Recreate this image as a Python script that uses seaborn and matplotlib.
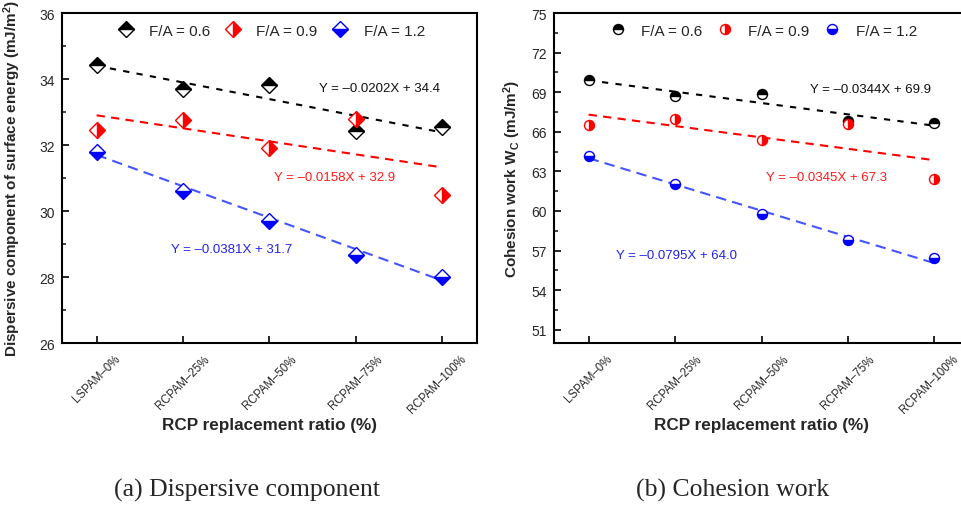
import numpy as np
import pandas as pd
import matplotlib
matplotlib.use("Agg")
import matplotlib.pyplot as plt
import matplotlib.transforms as mtransforms
import seaborn as sns
from matplotlib.ticker import MultipleLocator, FixedLocator

# ---------------- data ----------------
categories = ["LSPAM–0%", "RCPAM–25%", "RCPAM–50%", "RCPAM–75%", "RCPAM–100%"]
ratio = [0, 25, 50, 75, 100]
series_labels = ["F/A = 0.6", "F/A = 0.9", "F/A = 1.2"]

disp_06 = [34.43, 33.70, 33.83, 32.42, 32.54]
disp_09 = [32.46, 32.77, 31.90, 32.79, 30.47]
disp_12 = [31.78, 30.60, 29.70, 28.68, 27.99]

coh_06 = [69.94, 68.73, 68.88, 66.79, 66.67]
coh_09 = [66.54, 66.94, 65.36, 66.56, 62.39]
coh_12 = [64.18, 62.08, 59.77, 57.80, 56.42]

disp_slopes = [-0.0202, -0.0158, -0.0381]
disp_intercepts = [34.4, 32.9, 31.7]
coh_slopes = [-0.0344, -0.0345, -0.0795]
coh_intercepts = [69.9, 67.3, 64.0]

# ---------------- style ----------------
sns.set_style("ticks")
plt.rcParams["font.family"] = ["Liberation Sans", "DejaVu Sans"]
plt.rcParams["mathtext.fontset"] = "custom"
plt.rcParams["mathtext.rm"] = "Liberation Sans"
plt.rcParams["mathtext.it"] = "Liberation Sans:italic"
plt.rcParams["mathtext.bf"] = "Liberation Sans:bold"

marker_colors = ["#000000", "#ff0000", "#0000ff"]
line_colors = ["#000000", "#ff0000", "#4455ff"]
text_colors = ["#111111", "#ff1a1a", "#2222ee"]
fills = ["top", "right", "bottom"]
dash_styles = [(0, (3, 3.5)), (0, (4, 3)), (0, (5, 3))]

W, H = 962, 506
fig = plt.figure(figsize=(W / 100, H / 100), dpi=100)


def px_axes(l, t, r, b):
    return fig.add_axes([l / W, 1 - b / H, (r - l) / W, (b - t) / H])


ax1 = px_axes(62, 14, 477, 344)
ax2 = px_axes(554, 14, 969, 344)


def draw_panel(ax, ys, slopes, intercepts, marker, ms, eq_xy):
    handles = []
    for i in range(3):
        df = pd.DataFrame({"x": ratio, "y": ys[i]})
        xfit = np.array([ratio[0], ratio[-1]], dtype=float)
        fit = pd.DataFrame({"x": xfit, "y": intercepts[i] + slopes[i] * xfit})
        sns.lineplot(data=fit, x="x", y="y", ax=ax, color=line_colors[i],
                     linewidth=1.5, linestyle=dash_styles[i], legend=False,
                     zorder=2)
        sns.lineplot(data=df, x="x", y="y", ax=ax, color=marker_colors[i],
                     marker=marker, markersize=ms, linestyle="",
                     fillstyle=fills[i], markerfacecoloralt="white",
                     markeredgecolor=marker_colors[i], markeredgewidth=1.0,
                     label=series_labels[i], legend=False, zorder=3)
        handles.append(ax.lines[-1])
        sign = "–" if slopes[i] < 0 else "+"
        ax.text(eq_xy[i][0], eq_xy[i][1],
                f"Y = {sign}{abs(slopes[i]):.4f}X + {intercepts[i]:.1f}",
                color=text_colors[i], fontsize=9.5, ha="center", va="center")
    ax.legend(handles=handles, labels=series_labels, loc="upper center",
              ncol=3, frameon=False, fontsize=11, handlelength=1.5,
              handletextpad=0.8, columnspacing=0.7, borderaxespad=0.3)
    ax.set_xlim(-10, 110)
    ax.xaxis.set_major_locator(FixedLocator(ratio))
    ax.set_xticklabels(categories, rotation=45, ha="center", va="top",
                       fontsize=8.3)
    ax.tick_params(axis="x", which="major", direction="in", length=5,
                   width=1.4, pad=7, bottom=True, top=False)
    ax.tick_params(axis="y", which="major", direction="in", length=5,
                   width=1.4, labelsize=10, pad=5, left=True, right=False)
    ax.tick_params(axis="y", which="minor", direction="in", length=3,
                   width=1.2, left=True, right=False)
    # the last label sits slightly left of its tick in the reference
    last = ax.xaxis.get_major_ticks()[-1].label1
    last.set_transform(last.get_transform() +
                       mtransforms.ScaledTranslation(-5 / 100, 0,
                                                     fig.dpi_scale_trans))
    for s in ax.spines.values():
        s.set_linewidth(1.5)
        s.set_color("black")
    ax.set_xlabel("RCP replacement ratio (%)", fontsize=12.3, fontweight="bold",
                  labelpad=1)


draw_panel(ax1, [disp_06, disp_09, disp_12], disp_slopes, disp_intercepts,
           "D", 7.8, [(81.7, 33.73), (68.7, 31.03), (39.0, 28.85)])
ax1.set_ylim(26, 36)
ax1.yaxis.set_major_locator(MultipleLocator(2))
ax1.yaxis.set_minor_locator(MultipleLocator(1))
ax1.set_ylabel(r"Dispersive component of surface energy (mJ/m$^{\mathbf{2}}$)",
               fontsize=11, fontweight="bold", labelpad=12)

draw_panel(ax2, [coh_06, coh_09, coh_12], coh_slopes, coh_intercepts,
           "o", 7.2, [(81.6, 69.26), (68.7, 62.56), (25.4, 56.67)])
ax2.set_ylim(50, 75)
ax2.yaxis.set_major_locator(FixedLocator([51, 54, 57, 60, 63, 66, 69, 72, 75]))
ax2.yaxis.set_minor_locator(FixedLocator(list(np.arange(52.5, 75, 3))))
ax2.set_ylabel(r"Cohesion work W$_{\mathbf{C}}$ (mJ/m$^{\mathbf{2}}$)",
               fontsize=11, fontweight="bold", labelpad=6)
ax2.spines["right"].set_visible(False)

fig.text(247 / W, 1 - 490 / H, "(a) Dispersive component",
         family=["Liberation Serif", "DejaVu Serif"], fontsize=18.5,
         ha="center", va="center")
fig.text(733 / W, 1 - 490 / H, "(b) Cohesion work",
         family=["Liberation Serif", "DejaVu Serif"], fontsize=18.5,
         ha="center", va="center")

fig.savefig("out.png", dpi=100)
